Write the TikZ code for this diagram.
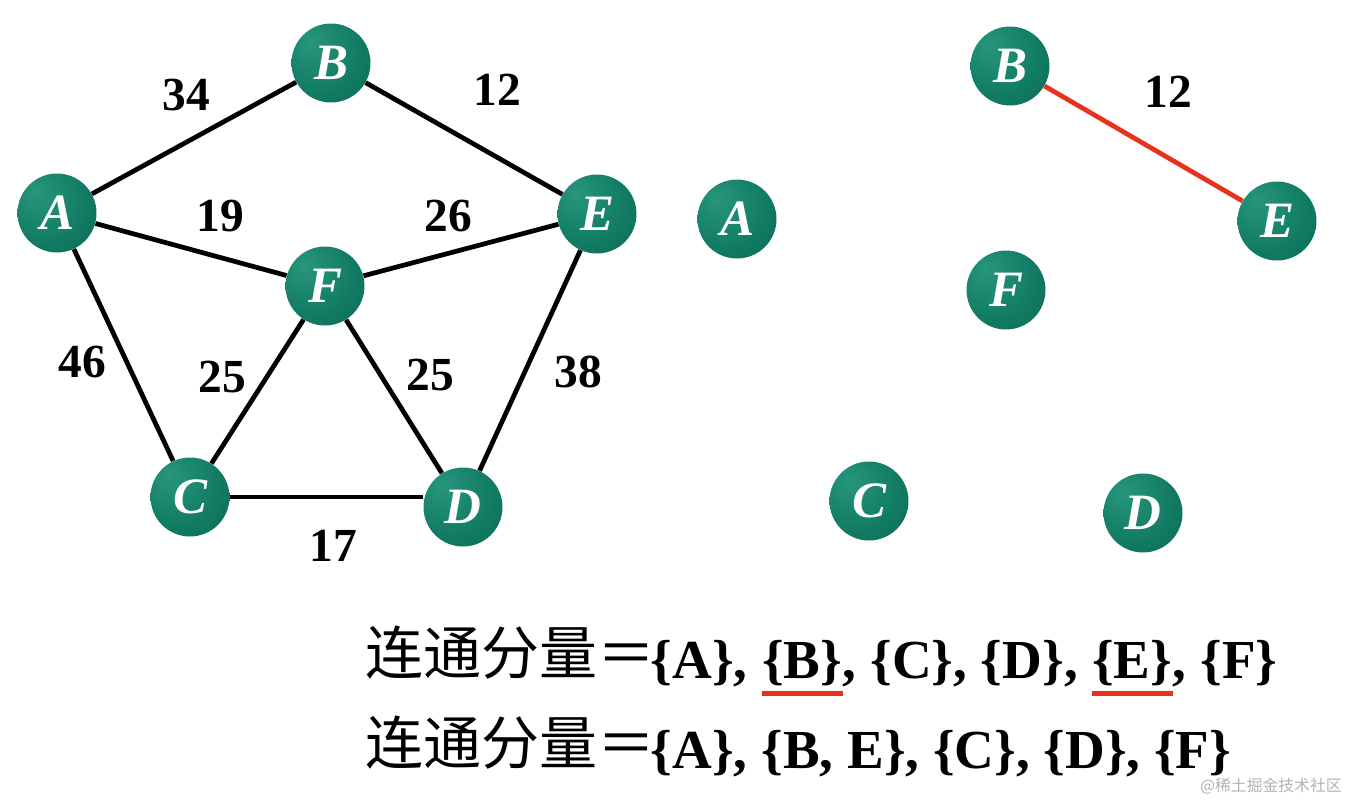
\documentclass[tikz,border=0pt]{standalone}
\usepackage{fontspec}
\setmainfont{Liberation Serif}
\newfontfamily\cjk{Noto Sans CJK SC}
\definecolor{nodeL}{HTML}{27967C}
\definecolor{nodeM}{HTML}{117A63}
\definecolor{nodeD}{HTML}{0A5646}
\definecolor{edgered}{HTML}{E8321E}
\pgfdeclareradialshading{sphere}{\pgfpoint{-14bp}{14bp}}{color(0bp)=(nodeL); color(28bp)=(nodeM); color(62bp)=(nodeD); color(70bp)=(nodeD)}
\begin{document}
\begin{tikzpicture}[x=0.02cm,y=-0.02cm,
  vnode/.style={circle, minimum size=1.58cm, inner sep=0pt, shading=sphere, text=white,
    font=\fontsize{29}{29}\selectfont\bfseries\itshape},
  edge/.style={line width=2.7pt, black},
  redge/.style={line width=2.7pt, edgered},
  wlabel/.style={font=\fontsize{27}{27}\selectfont\bfseries, inner sep=0pt},
  txt/.style={font=\fontsize{31.3}{31.3}\selectfont\bfseries, inner sep=0pt, anchor=base west},
  cjktxt/.style={font=\fontsize{33}{33}\selectfont\mdseries\cjk, inner sep=0pt, anchor=base west},
  uline/.style={line width=2.8pt, edgered}]
\useasboundingbox (0,0) rectangle (1349,802);
% left graph
\node[vnode] (A) at (57,213) {A};
\node[vnode] (B) at (331,63) {B};
\node[vnode] (E) at (597,214) {E};
\node[vnode] (F) at (325,286) {F};
\node[vnode] (C) at (190,497) {C};
\node[vnode] (D) at (463,507) {D};
\draw[edge] (A) -- (B);
\draw[edge] (B) -- (E);
\draw[edge] (A) -- (F);
\draw[edge] (F) -- (E);
\draw[edge] (A) -- (C);
\draw[edge] (F) -- (C);
\draw[edge] (F) -- (D);
\draw[edge] (E) -- (D);
\draw[edge] (C.east) -- (D.west |- C.east);
\node[wlabel] (l34) at (186,95) {34};
\node[wlabel] (l12) at (497,90) {12};
\node[wlabel] (l19) at (220,216) {19};
\node[wlabel] (l26) at (448,216) {26};
\node[wlabel] (l46) at (82,362) {46};
\node[wlabel] (l25a) at (222,377) {25};
\node[wlabel] (l25b) at (430,375) {25};
\node[wlabel] (l38) at (578,372) {38};
\node[wlabel] (l17) at (333,546) {17};
% right graph
\node[vnode] (A2) at (737,219) {A};
\node[vnode] (B2) at (1010,66) {B};
\node[vnode] (E2) at (1277,221) {E};
\node[vnode] (F2) at (1006,290) {F};
\node[vnode] (C2) at (869,501) {C};
\node[vnode] (D2) at (1143,513) {D};
\draw[redge] (B2) -- (E2);
\node[wlabel] (l12b) at (1168,92) {12};
% text lines
\node[cjktxt] (t1z) at (365,674) {连通分量＝};
\node[txt] (t1a) at ([xshift=-0.1cm]t1z.base east |- 0,678) {\{A\}, \mbox{}};
\node[txt] (t1b) at (t1a.base east) {\{B\}};
\node[txt] (t1c) at (t1b.base east) {, \{C\}, \{D\}, \mbox{}};
\node[txt] (t1d) at (t1c.base east) {\{E\}};
\node[txt] (t1e) at (t1d.base east) {, \{F\}};
\draw[uline] ([yshift=-0.16cm]t1b.south west) -- ([yshift=-0.16cm]t1b.south east);
\draw[uline] ([yshift=-0.16cm]t1d.south west) -- ([yshift=-0.16cm]t1d.south east);
\node[cjktxt] (t2z) at (365,764) {连通分量＝};
\node[txt] (t2) at ([xshift=-0.1cm]t2z.base east |- 0,768) {\{A\}, \{B, E\}, \{C\}, \{D\}, \{F\}};
\node[font=\fontsize{9}{9}\selectfont\cjk, text=black!30, anchor=east, inner sep=0pt] (wm) at (1342,786) {@稀土掘金技术社区};
\end{tikzpicture}
\end{document}
